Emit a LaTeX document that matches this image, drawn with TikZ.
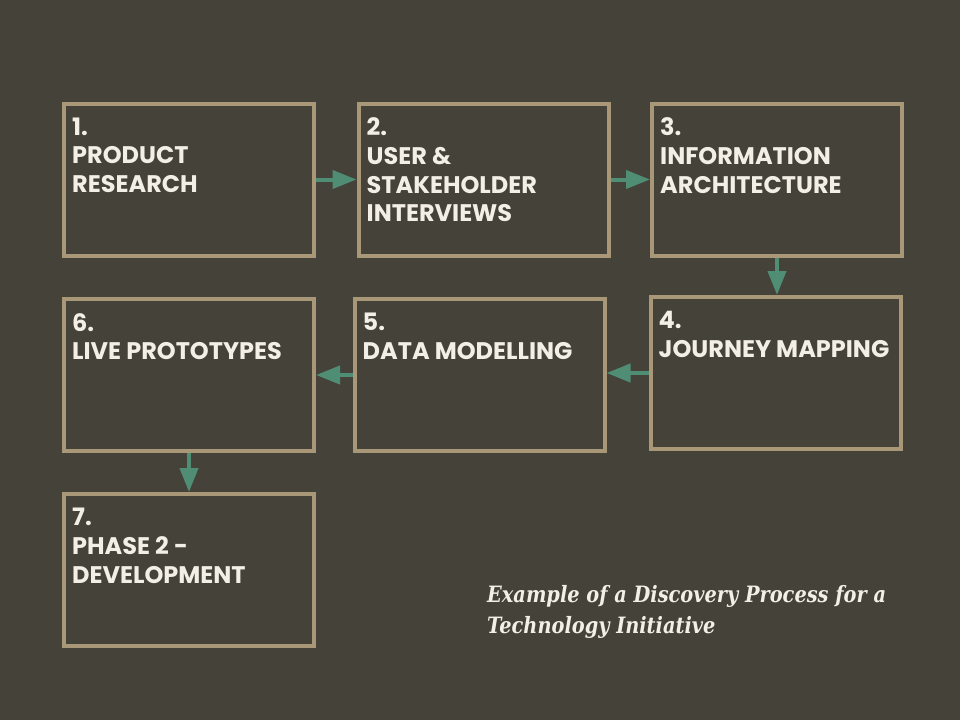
\documentclass[tikz,border=0pt]{standalone}
\usepackage{fontspec}
\setmainfont{Poppins}
\newfontfamily\captionfont[FakeStretch=0.86]{DejaVu Serif}
\usetikzlibrary{arrows.meta}

\definecolor{bgdark}{HTML}{45423A}
\definecolor{boxtan}{HTML}{A99878}
\definecolor{textcream}{HTML}{F3EFE6}
\definecolor{arrowteal}{HTML}{4F8E74}

\tikzset{
  stage/.style={draw=boxtan, line width=4pt, minimum width=250pt,
    minimum height=152pt, inner sep=0pt},
  stagetext/.style={anchor=north west, align=left, inner sep=0pt,
    text=textcream, font=\fontsize{24}{28.7}\selectfont\bfseries},
  flow/.style={draw=arrowteal, line width=4pt,
    -{Triangle[width=18pt,length=24pt]}}
}

\begin{document}
\begin{tikzpicture}[x=1pt,y=-1pt]
    % Sfondo
    \fill[bgdark] (0,0) rectangle (960,720);
    \useasboundingbox (0,0) rectangle (960,720);

    % Riquadri delle fasi
    \node[stage] (b1) at (189,179.5) {};
    \node[stage] (b2) at (483.5,179.5) {};
    \node[stage] (b3) at (777,179.5) {};
    \node[stage] (b4) at (775.5,373) {};
    \node[stage] (b5) at (479.5,375) {};
    \node[stage] (b6) at (189,375) {};
    \node[stage] (b7) at (189,570) {};

    % Testi delle fasi
    \node[stagetext] (t1) at ([xshift=10pt,yshift=-16pt]b1.north west) {1.\\PRODUCT\\RESEARCH};
    \node[stagetext] (t2) at ([xshift=10pt,yshift=-16pt]b2.north west) {2.\\USER \&\\STAKEHOLDER\\INTERVIEWS};
    \node[stagetext] (t3) at ([xshift=10pt,yshift=-16pt]b3.north west) {3.\\INFORMATION\\ARCHITECTURE};
    \node[stagetext] (t4) at ([xshift=10pt,yshift=-16pt]b4.north west) {4.\\JOURNEY MAPPING};
    \node[stagetext] (t5) at ([xshift=10pt,yshift=-16pt]b5.north west) {5.\\DATA MODELLING};
    \node[stagetext] (t6) at ([xshift=10pt,yshift=-16pt]b6.north west) {6.\\LIVE PROTOTYPES};
    \node[stagetext] (t7) at ([xshift=10pt,yshift=-16pt]b7.north west) {7.\\PHASE 2 -\\DEVELOPMENT};

    % Frecce tra le fasi
    \draw[flow] (b1.east) -- (b2.west);
    \draw[flow] (b2.east) -- (b3.west);
    \draw[flow] (b3.south) -- (b3.south |- b4.north);
    \draw[flow] (b4.west) -- (b4.west -| b5.east);
    \draw[flow] (b5.west) -- (b5.west -| b6.east);
    \draw[flow] (b6.south) -- (b7.north);

    % Didascalia
    \node[anchor=base west, align=left, inner sep=0pt, text=textcream,
      font=\captionfont\bfseries\itshape\fontsize{22.5}{31}\selectfont] (caption) at (487,633)
      {Example of a Discovery Process for a\\Technology Initiative};
\end{tikzpicture}
\end{document}
